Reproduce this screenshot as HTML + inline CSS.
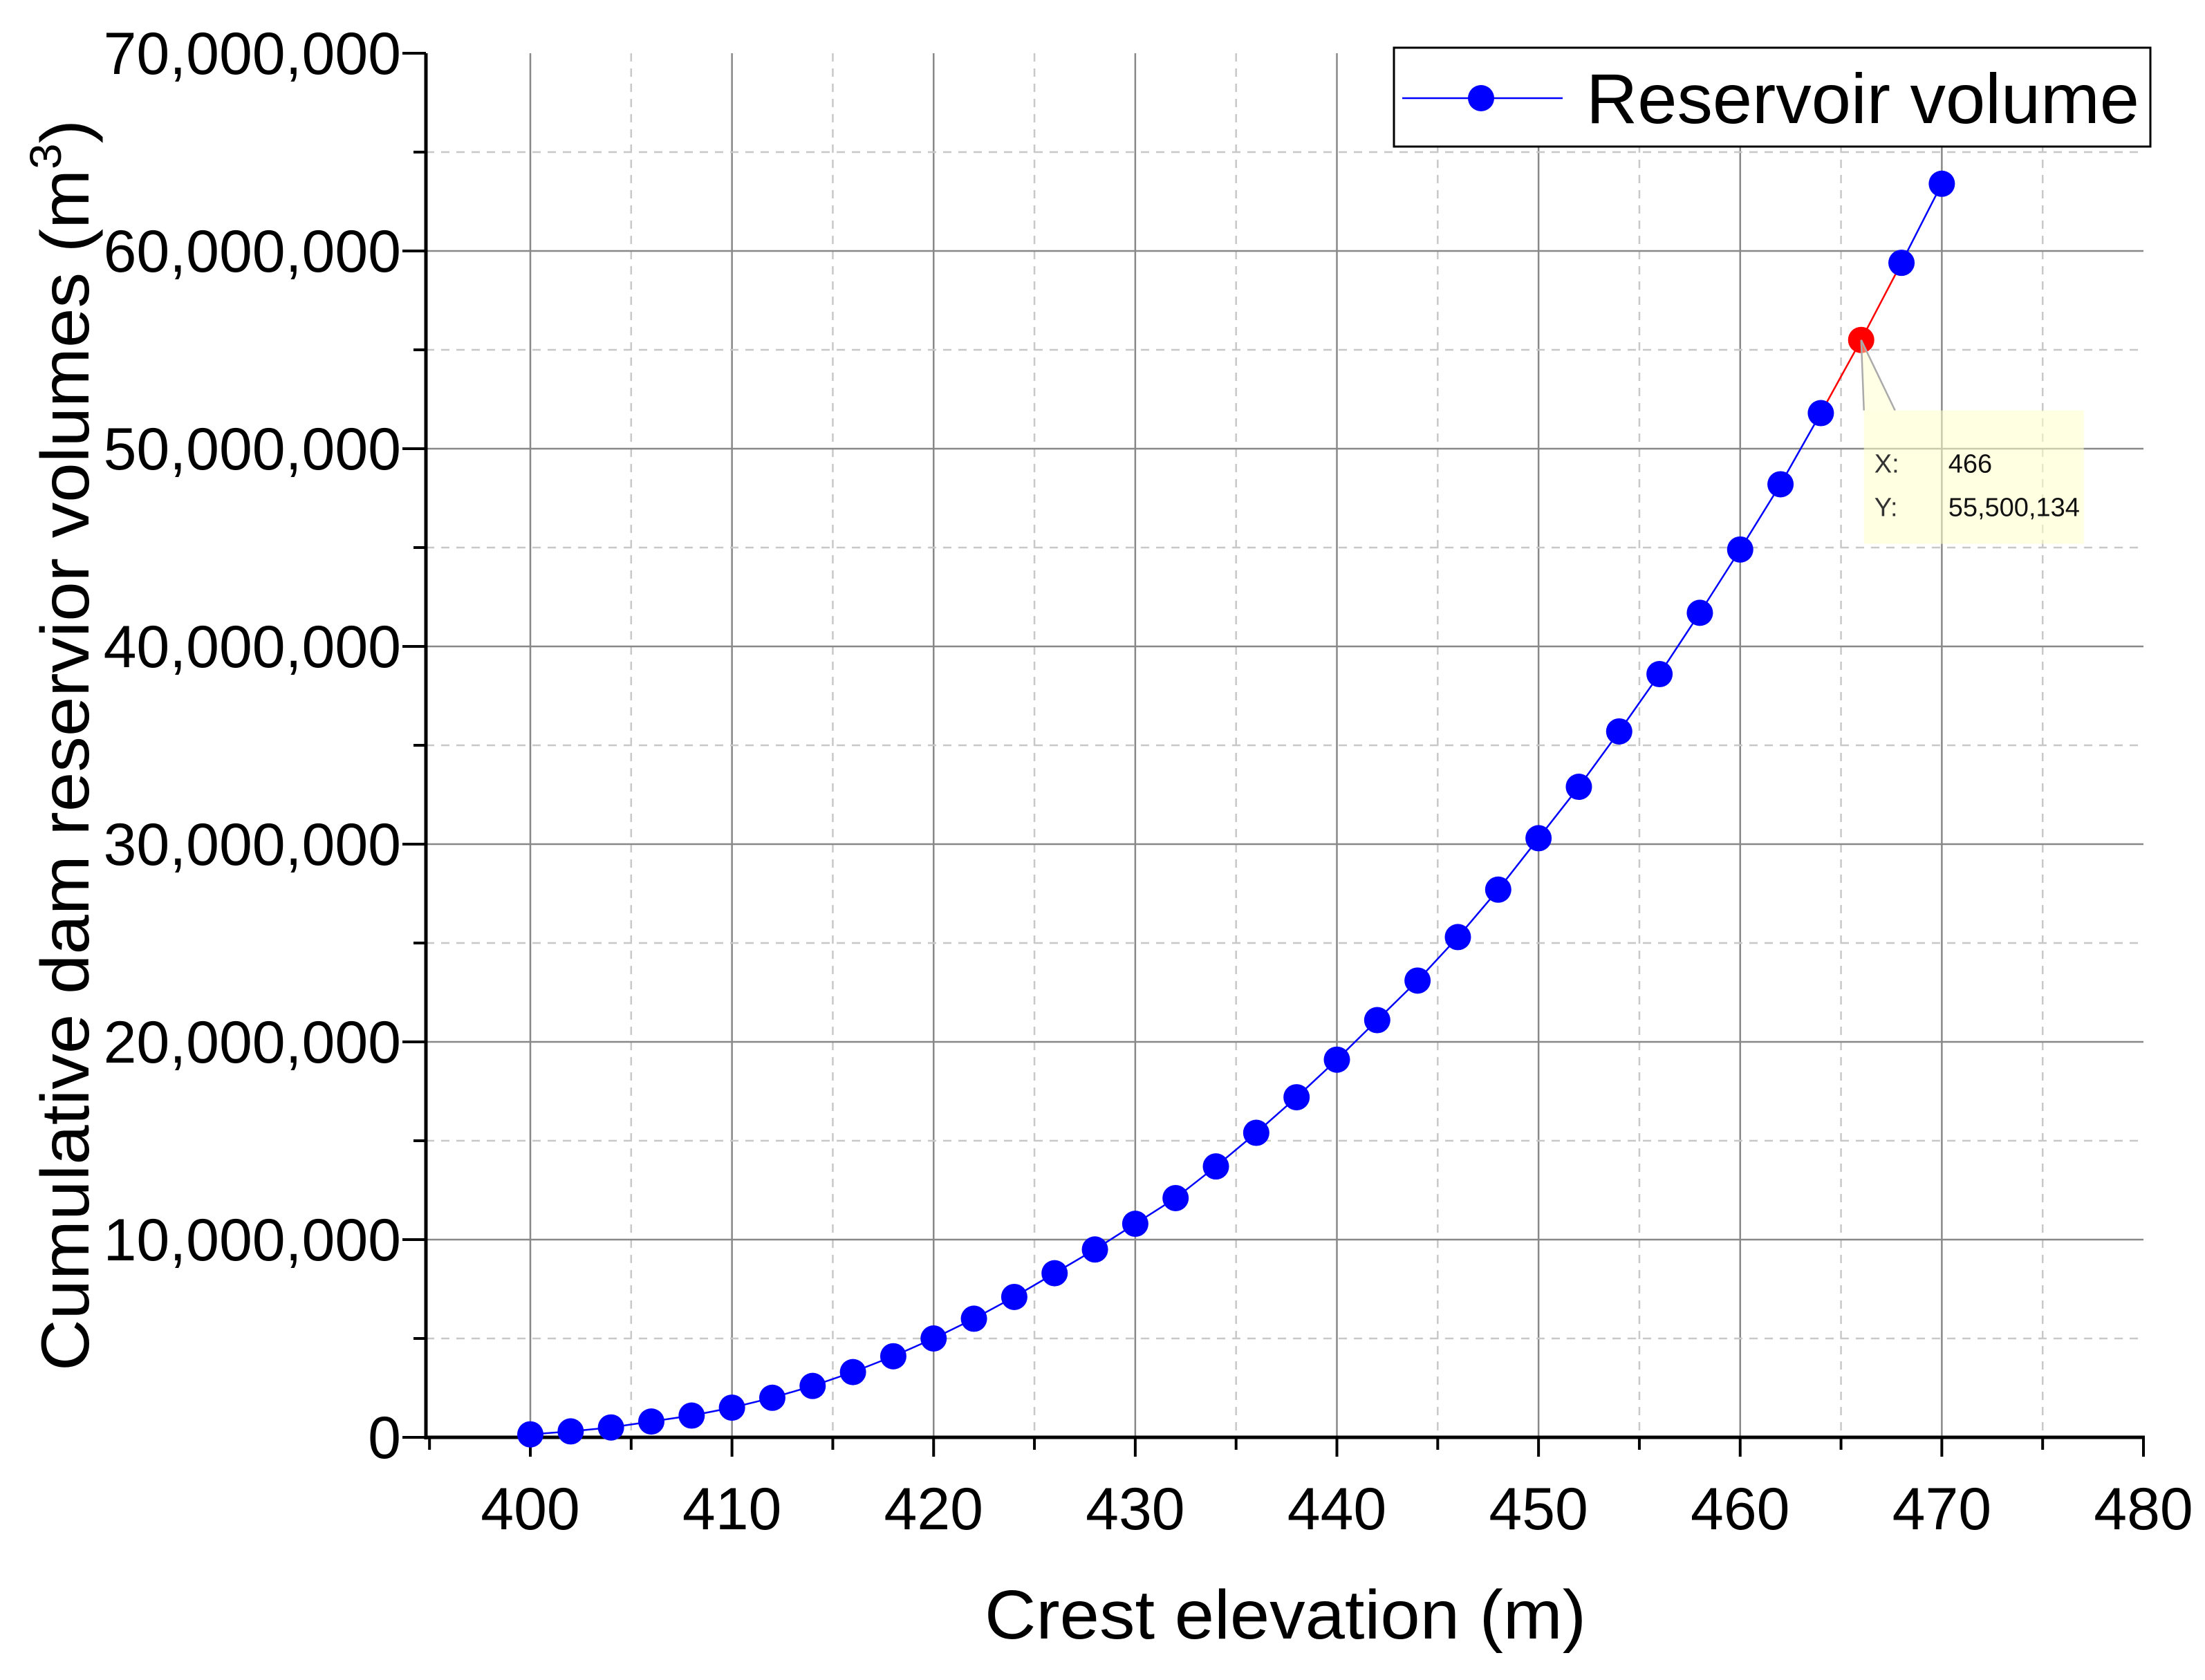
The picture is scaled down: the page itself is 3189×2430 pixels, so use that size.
<!DOCTYPE html>
<html><head><meta charset="utf-8"><style>
html,body{margin:0;padding:0;background:#fff}
svg{display:block;font-family:"Liberation Sans",Arial,sans-serif}
</style></head><body>
<svg id="chart" width="3189" height="2430" viewBox="0 0 3189 2430" xmlns="http://www.w3.org/2000/svg">
<g id="grid"></g>
<g id="axes"></g>
<g id="series"></g>
<text transform="translate(128,1078) rotate(-90)" text-anchor="middle" font-size="98" textLength="1810" lengthAdjust="spacingAndGlyphs">Cumulative dam reservior volumes (m<tspan font-size="64" dy="-40">3</tspan><tspan dy="40">)</tspan></text>
<text x="1859" y="2370" text-anchor="middle" font-size="100" textLength="870" lengthAdjust="spacingAndGlyphs">Crest elevation (m)</text>
<g>
<rect x="2016" y="69" width="1094" height="143" fill="#fff" stroke="#000" stroke-width="3"/>
<line x1="2028" y1="142" x2="2260" y2="142" stroke="#0000ff" stroke-width="2.5"/>
<circle cx="2142" cy="142" r="19" fill="#0000ff"/>
<text x="2294" y="178" font-size="102" textLength="800" lengthAdjust="spacingAndGlyphs">Reservoir volume</text>
</g>
<g id="tooltip"></g>
</svg>
<script>
const xValues=[400,402,404,406,408,410,412,414,416,418,420,422,424,426,428,430,432,434,436,438,440,442,444,446,448,450,452,454,456,458,460,462,464,466,468,470];
const yMillions=[0.15,0.3,0.5,0.8,1.1,1.5,2.0,2.6,3.3,4.1,5.0,6.0,7.1,8.3,9.5,10.8,12.1,13.7,15.4,17.2,19.1,21.1,23.1,25.3,27.7,30.3,32.9,35.7,38.6,41.7,44.9,48.2,51.8,55.500134,59.4,63.4];
const xTicks=[400,410,420,430,440,450,460,470,480];
const yTicks=[0,10,20,30,40,50,60,70];
const yTickLabels=["0","10,000,000","20,000,000","30,000,000","40,000,000","50,000,000","60,000,000","70,000,000"];
const highlightIndex=33;
const tooltipLabels=["466","55,500,134"];

const NS="http://www.w3.org/2000/svg";
const L=616,R=3100,T=77,B=2079,X0=395,X1=480,Y1=70;
const sx=v=>767+(v-400)*(3100-767)/80;
const sy=v=>B-v*(B-T)/Y1;
function mk(tag,attrs,parent){const e=document.createElementNS(NS,tag);for(const k in attrs)e.setAttribute(k,attrs[k]);parent.appendChild(e);return e;}
const grid=document.getElementById('grid'),axes=document.getElementById('axes'),series=document.getElementById('series'),tip=document.getElementById('tooltip');

for(let v=400;v<=475;v+=5){
  const major=v%10===0;
  const g=mk('line',{x1:sx(v),x2:sx(v),y1:T,y2:B,stroke:major?'#888':'#c8c8c8','stroke-width':major?2.5:2.5,'stroke-dasharray':major?'':'12 10'},grid);
  
  
}
for(let v=5;v<=65;v+=5){
  const major=v%10===0;
  const g=mk('line',{x1:L,x2:R,y1:sy(v),y2:sy(v),stroke:major?'#888':'#c8c8c8','stroke-width':2.5,'stroke-dasharray':major?'':'12 10'},grid);
  
  
}
let a=mk('line',{x1:L,x2:L,y1:T,y2:B+3,stroke:'#000','stroke-width':5},axes);


a=mk('line',{x1:L-2,x2:R+2,y1:B,y2:B,stroke:'#000','stroke-width':5},axes);


for(let v=395;v<=480;v+=5){
  const major=v%10===0;
  const t=mk('line',{x1:sx(v),x2:sx(v),y1:B,y2:B+(major?28:18),stroke:'#000','stroke-width':4},axes);
  
  
}
xTicks.forEach(v=>{
  const t=mk('text',{x:sx(v),y:2212,'text-anchor':'middle','font-size':86},axes);
  t.textContent=v;
  
  
});
for(let v=0;v<=70;v+=5){
  const major=v%10===0;
  const t=mk('line',{x1:L-(major?34:18),x2:L,y1:sy(v),y2:sy(v),stroke:'#000','stroke-width':4},axes);
  
  
}
yTicks.forEach((v,i)=>{
  const t=mk('text',{x:580,y:sy(v)+30,'text-anchor':'end','font-size':86},axes);
  t.textContent=yTickLabels[i];
  
  
});
for(let i=0;i<xValues.length-1;i++){
  const red=(i===highlightIndex-1||i===highlightIndex);
  const s=mk('line',{x1:sx(xValues[i]),y1:sy(yMillions[i]),x2:sx(xValues[i+1]),y2:sy(yMillions[i+1]),stroke:red?'#ff0000':'#0000ff','stroke-width':2.5},series);
  
  
}
xValues.forEach((x,i)=>{
  const c=mk('circle',{cx:sx(x),cy:sy(yMillions[i]),r:19,fill:i===highlightIndex?'#ff0000':'#0000ff'},series);
  
  
});
const px=sx(xValues[highlightIndex]),py=sy(yMillions[highlightIndex]);
const bx=px+4,by=py+102;
let e=mk('polygon',{points:`${px},${py} ${bx+45},${by} ${bx},${by}`,fill:'rgba(255,255,200,0.45)'},tip);


e=mk('line',{x1:px,y1:py,x2:bx,y2:by,stroke:'#aaa','stroke-width':2.5},tip);


e=mk('line',{x1:px,y1:py,x2:bx+45,y2:by,stroke:'#aaa','stroke-width':2.5},tip);


e=mk('rect',{x:bx,y:by,width:318,height:193,fill:'rgba(255,255,200,0.55)'},tip);


[['X:',tooltipLabels[0],by+90],['Y:',tooltipLabels[1],by+153]].forEach(r=>{
  let t=mk('text',{x:bx+15,y:r[2],'font-size':38,fill:'#333'},tip);
  t.textContent=r[0];
  
  
  t=mk('text',{x:bx+122,y:r[2],'font-size':38,fill:'#111'},tip);
  t.textContent=r[1];
  
  
});
</script>
</body></html>
